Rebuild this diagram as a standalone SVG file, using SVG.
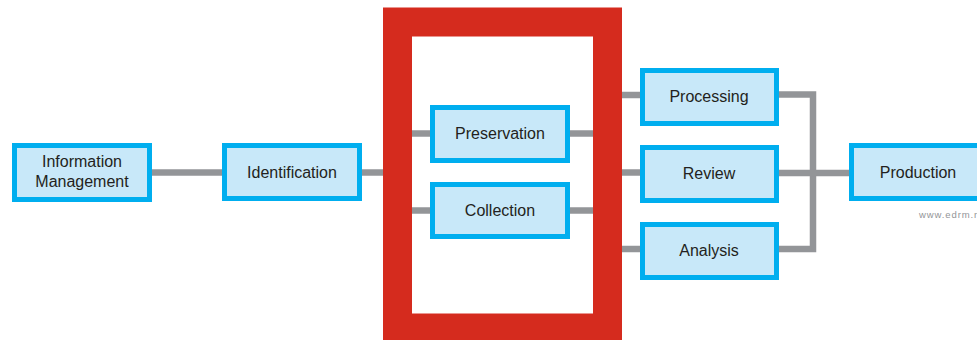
<svg xmlns="http://www.w3.org/2000/svg" width="977" height="340" viewBox="0 0 977 340">
  <style>
    .box { fill: #c8e8f9; stroke: #00aeef; stroke-width: 5; }
    .lbl { font-family: "Liberation Sans", Arial, sans-serif; font-size: 16px; fill: #231f20; text-anchor: middle; }
    .wire { stroke: #939598; stroke-width: 6.5; fill: none; }
  </style>
  <rect width="977" height="340" fill="#ffffff"/>

  <!-- connectors -->
  <g id="connectors">
    <line class="wire" x1="152" y1="172.5" x2="222" y2="172.5"/>
    <line class="wire" x1="362" y1="172.5" x2="390" y2="172.5"/>
    <line class="wire" x1="410" y1="133.5" x2="430" y2="133.5"/>
    <line class="wire" x1="410" y1="210.5" x2="430" y2="210.5"/>
    <line class="wire" x1="570" y1="133.5" x2="595" y2="133.5"/>
    <line class="wire" x1="570" y1="210.5" x2="595" y2="210.5"/>
    <line class="wire" x1="615" y1="95" x2="640" y2="95"/>
    <line class="wire" x1="615" y1="172.5" x2="640" y2="172.5"/>
    <line class="wire" x1="615" y1="249" x2="640" y2="249"/>
    <polyline class="wire" points="779,94.5 813,94.5 813,249 779,249"/>
    <line class="wire" x1="779" y1="173" x2="849" y2="173"/>
  </g>

  <!-- highlighted stage frame -->
  <g id="highlight">
    <rect x="397.5" y="22" width="210" height="306" fill="none" stroke="#d52b1e" stroke-width="29"/>
  </g>

  <g id="information-management">
    <rect class="box" x="14.5" y="145.5" width="135" height="54"/>
    <text class="lbl" x="82" y="167">Information</text>
    <text class="lbl" x="82" y="187">Management</text>
  </g>
  <g id="identification">
    <rect class="box" x="224.5" y="145.5" width="135" height="53"/>
    <text class="lbl" x="292" y="178">Identification</text>
  </g>
  <g id="preservation">
    <rect class="box" x="432.5" y="107.5" width="135" height="53"/>
    <text class="lbl" x="500" y="139">Preservation</text>
  </g>
  <g id="collection">
    <rect class="box" x="432.5" y="184.5" width="135" height="52"/>
    <text class="lbl" x="500" y="216">Collection</text>
  </g>
  <g id="processing">
    <rect class="box" x="642.5" y="70.5" width="134" height="53"/>
    <text class="lbl" x="709" y="102">Processing</text>
  </g>
  <g id="review">
    <rect class="box" x="642.5" y="147.5" width="134" height="53"/>
    <text class="lbl" x="709" y="179">Review</text>
  </g>
  <g id="analysis">
    <rect class="box" x="642.5" y="224.5" width="134" height="53"/>
    <text class="lbl" x="709" y="256">Analysis</text>
  </g>
  <g id="production">
    <rect class="box" x="851.5" y="145.5" width="134" height="53"/>
    <text class="lbl" x="918" y="178">Production</text>
  </g>

  <text x="919" y="218" font-family="Liberation Sans, Arial, sans-serif" font-size="9.5" fill="#939598" letter-spacing="0.9">www.edrm.net</text>
</svg>
